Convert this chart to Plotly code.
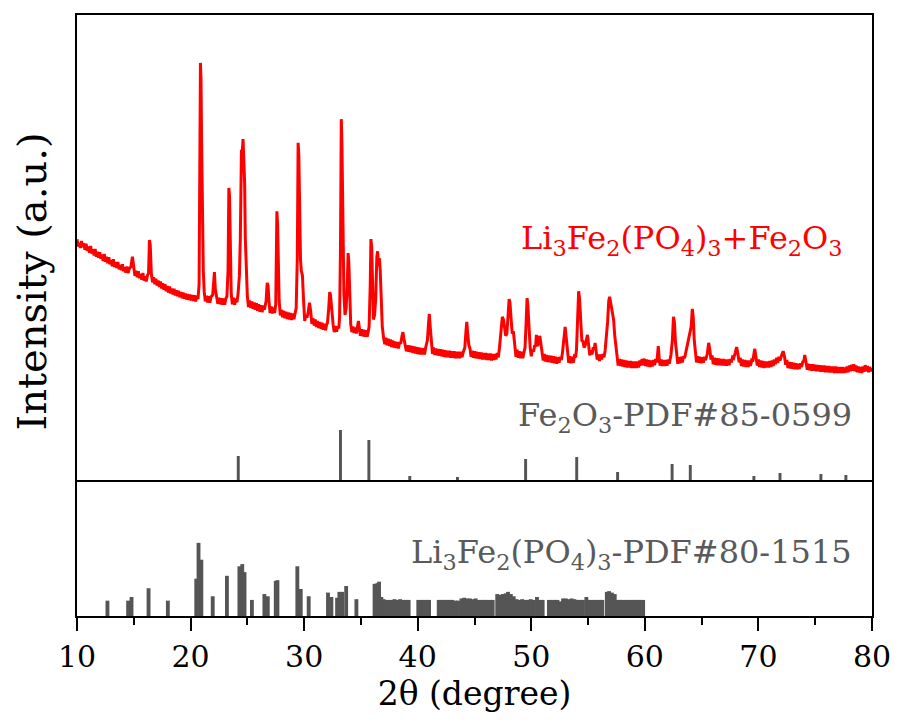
import plotly.graph_objects as go

# ---- measured XRD scan (2theta in degrees, intensity in a.u.) ----
scan_points = [
    (10.0, 51.8), (10.1, 50.2), (10.2, 51.0), (10.3, 49.9), (10.4, 51.4), (10.5, 50.1), (10.6, 50.9),
    (10.7, 49.5), (10.8, 50.8), (10.9, 49.3), (11.0, 50.2), (11.1, 48.9), (11.2, 50.3), (11.3, 48.7),
    (11.4, 49.6), (11.5, 48.3), (11.6, 49.7), (11.7, 48.0), (11.8, 49.1), (11.9, 47.8), (12.0, 49.0),
    (12.1, 47.6), (12.2, 48.5), (12.3, 47.1), (12.4, 48.6), (12.5, 46.9), (12.6, 48.0), (12.7, 46.6),
    (12.8, 47.9), (12.9, 46.4), (13.0, 47.3), (13.1, 46.0), (13.2, 47.5), (13.3, 45.8), (13.4, 46.9),
    (13.5, 45.6), (13.6, 46.9), (13.7, 45.3), (13.8, 46.3), (13.9, 45.1), (14.0, 46.4), (14.1, 44.9),
    (14.2, 45.8), (14.3, 44.6), (14.4, 45.9), (14.5, 44.5), (14.6, 45.4), (14.75, 45.9), (14.88, 48.0),
    (15.0, 45.4), (15.1, 43.9), (15.2, 45.0), (15.3, 43.6), (15.4, 44.9), (15.5, 43.4), (15.6, 44.3),
    (15.7, 43.1), (15.8, 44.5), (15.9, 42.9), (16.0, 43.8), (16.1, 42.7), (16.2, 44.0), (16.3, 44.5),
    (16.38, 51.6), (16.45, 50.5), (16.55, 44.2), (16.65, 42.5), (16.75, 43.6), (16.85, 42.1), (16.95, 43.3),
    (17.05, 41.8), (17.15, 42.9), (17.25, 41.5), (17.35, 42.7), (17.45, 41.2), (17.55, 42.3), (17.65, 40.9),
    (17.75, 42.1), (17.85, 40.6), (17.95, 41.7), (18.05, 40.3), (18.15, 41.6), (18.25, 40.1), (18.35, 41.2),
    (18.45, 39.9), (18.55, 41.1), (18.65, 39.7), (18.75, 40.8), (18.85, 39.5), (18.95, 40.7), (19.05, 39.3),
    (19.15, 40.4), (19.25, 39.1), (19.35, 40.3), (19.45, 39.0), (19.55, 40.1), (19.65, 38.8), (19.75, 40.0),
    (19.85, 38.7), (19.95, 39.9), (20.05, 38.6), (20.15, 39.8), (20.25, 38.5), (20.35, 39.7), (20.45, 38.4),
    (20.55, 39.6), (20.65, 38.9), (20.75, 42.0), (20.82, 60.0), (20.87, 89.7), (20.92, 86.0), (20.97, 73.0),
    (21.02, 62.0), (21.07, 56.0), (21.12, 45.0), (21.2, 40.5), (21.3, 38.4), (21.4, 39.6), (21.5, 38.2),
    (21.6, 39.5), (21.7, 38.1), (21.8, 39.4), (21.95, 39.8), (22.05, 43.0), (22.1, 44.7), (22.18, 41.0),
    (22.3, 39.4), (22.4, 37.9), (22.5, 39.2), (22.6, 37.8), (22.7, 39.1), (22.8, 37.7), (22.9, 39.0),
    (23.0, 37.7), (23.1, 39.0), (23.2, 39.5), (23.3, 45.0), (23.37, 62.8), (23.43, 61.0), (23.5, 48.0),
    (23.58, 40.0), (23.68, 37.8), (23.78, 39.2), (23.88, 37.7), (23.98, 39.0), (24.08, 38.2), (24.18, 40.0),
    (24.3, 44.0), (24.38, 52.0), (24.48, 71.0), (24.55, 70.3), (24.62, 73.3), (24.7, 68.0), (24.76, 63.9),
    (24.82, 52.0), (24.9, 44.0), (25.0, 39.5), (25.1, 37.2), (25.2, 38.6), (25.3, 37.0), (25.4, 38.4),
    (25.5, 36.8), (25.6, 38.2), (25.7, 36.6), (25.8, 38.0), (25.9, 36.4), (26.0, 37.8), (26.1, 36.2),
    (26.2, 37.6), (26.3, 36.1), (26.4, 37.5), (26.5, 36.6), (26.65, 38.5), (26.75, 42.4), (26.82, 41.8),
    (26.9, 38.6), (27.0, 35.9), (27.1, 37.3), (27.2, 35.8), (27.3, 37.1), (27.4, 35.9), (27.5, 37.8),
    (27.55, 45.0), (27.6, 57.8), (27.66, 55.0), (27.72, 44.0), (27.8, 38.5), (27.9, 35.4), (28.0, 36.6),
    (28.1, 35.0), (28.2, 36.4), (28.3, 34.8), (28.4, 36.2), (28.5, 34.6), (28.6, 36.0), (28.7, 34.5),
    (28.8, 35.9), (28.9, 34.4), (29.0, 35.8), (29.1, 34.6), (29.2, 36.2), (29.3, 37.0), (29.4, 48.0),
    (29.47, 72.5), (29.53, 70.0), (29.6, 52.0), (29.68, 47.3), (29.75, 45.0), (29.85, 44.0), (29.95, 38.5),
    (30.05, 34.2), (30.15, 35.5), (30.25, 34.9), (30.35, 36.0), (30.47, 38.1), (30.58, 36.2), (30.68, 33.6),
    (30.78, 34.8), (30.88, 33.2), (30.98, 34.5), (31.08, 32.9), (31.18, 34.2), (31.28, 32.7), (31.38, 34.0),
    (31.48, 32.5), (31.58, 33.8), (31.68, 32.3), (31.78, 33.6), (31.88, 32.2), (31.98, 33.4), (32.05, 33.8),
    (32.15, 36.5), (32.25, 40.4), (32.32, 39.8), (32.42, 36.0), (32.55, 33.5), (32.65, 31.8), (32.75, 33.1),
    (32.85, 31.9), (32.95, 33.0), (33.05, 32.6), (33.12, 35.0), (33.2, 50.0), (33.27, 77.6), (33.33, 72.0),
    (33.38, 58.0), (33.43, 56.0), (33.5, 40.0), (33.6, 35.5), (33.7, 37.0), (33.8, 42.0), (33.87, 48.8),
    (33.93, 47.0), (34.0, 38.0), (34.1, 33.5), (34.2, 31.8), (34.3, 33.0), (34.4, 31.6), (34.5, 32.8),
    (34.6, 31.5), (34.7, 33.0), (34.78, 34.2), (34.87, 32.6), (34.95, 31.0), (35.05, 32.4), (35.15, 30.9),
    (35.25, 32.3), (35.35, 30.8), (35.45, 32.2), (35.55, 30.8), (35.65, 32.0), (35.72, 33.0), (35.82, 42.0),
    (35.88, 51.8), (35.95, 50.0), (36.02, 41.0), (36.1, 34.5), (36.2, 35.5), (36.3, 39.0), (36.4, 48.0),
    (36.47, 49.2), (36.55, 46.0), (36.62, 47.7), (36.7, 45.0), (36.78, 38.0), (36.88, 33.0), (37.0, 30.5),
    (37.1, 29.2), (37.2, 30.6), (37.3, 29.0), (37.4, 30.4), (37.5, 28.8), (37.6, 30.2), (37.7, 28.6),
    (37.8, 30.0), (37.9, 28.5), (38.0, 29.8), (38.1, 28.4), (38.2, 29.7), (38.3, 28.3), (38.4, 29.6),
    (38.5, 29.3), (38.62, 31.0), (38.7, 31.8), (38.78, 30.5), (38.9, 29.0), (39.0, 27.7), (39.1, 29.0),
    (39.2, 27.6), (39.3, 28.9), (39.4, 27.5), (39.5, 28.8), (39.6, 27.3), (39.7, 28.7), (39.8, 27.2),
    (39.9, 28.6), (40.0, 27.1), (40.1, 28.5), (40.2, 27.0), (40.3, 28.4), (40.4, 27.0), (40.5, 28.3),
    (40.6, 27.0), (40.7, 28.5), (40.85, 30.0), (40.95, 33.5), (41.02, 35.7), (41.1, 33.0), (41.2, 29.5),
    (41.3, 27.1), (41.4, 28.5), (41.5, 26.9), (41.6, 28.3), (41.7, 26.8), (41.8, 28.2), (41.9, 26.7),
    (42.0, 28.1), (42.1, 26.6), (42.2, 28.0), (42.3, 26.5), (42.4, 27.9), (42.5, 26.4), (42.6, 27.8),
    (42.7, 26.4), (42.8, 27.8), (42.9, 26.3), (43.0, 27.7), (43.1, 26.3), (43.2, 27.7), (43.3, 26.2),
    (43.4, 27.6), (43.5, 26.2), (43.6, 27.6), (43.7, 26.2), (43.8, 27.6), (43.9, 26.4), (44.0, 27.4),
    (44.15, 28.5), (44.25, 32.0), (44.32, 34.0), (44.4, 31.5), (44.5, 29.0), (44.6, 28.3), (44.7, 26.5),
    (44.8, 27.8), (44.9, 26.3), (45.0, 27.7), (45.1, 26.2), (45.2, 27.6), (45.3, 26.1), (45.4, 27.5),
    (45.5, 26.0), (45.6, 27.4), (45.7, 25.9), (45.8, 27.3), (45.9, 25.9), (46.0, 27.3), (46.1, 25.8),
    (46.2, 27.2), (46.3, 25.8), (46.4, 27.2), (46.5, 25.7), (46.6, 27.1), (46.7, 25.8), (46.8, 27.1),
    (46.9, 25.9), (47.0, 27.3), (47.1, 26.4), (47.2, 28.5), (47.35, 33.0), (47.45, 35.1), (47.55, 34.5),
    (47.65, 33.0), (47.75, 31.0), (47.85, 31.5), (47.95, 35.0), (48.05, 38.9), (48.12, 38.2), (48.22, 34.0),
    (48.32, 31.5), (48.42, 32.0), (48.55, 29.5), (48.65, 26.5), (48.75, 28.0), (48.85, 26.3), (48.95, 27.7),
    (49.05, 26.2), (49.15, 27.6), (49.25, 26.2), (49.35, 27.4), (49.45, 28.5), (49.55, 34.0), (49.63, 39.1),
    (49.7, 37.5), (49.8, 31.0), (49.9, 28.5), (50.0, 26.6), (50.1, 28.0), (50.2, 27.6), (50.3, 29.0),
    (50.38, 28.7), (50.45, 31.2), (50.55, 28.8), (50.65, 29.5), (50.75, 31.0), (50.85, 29.0), (50.95, 27.2),
    (51.05, 25.7), (51.15, 27.1), (51.25, 25.5), (51.35, 26.9), (51.45, 25.4), (51.55, 26.8), (51.65, 25.3),
    (51.75, 26.7), (51.85, 25.2), (51.95, 26.6), (52.05, 25.1), (52.15, 26.5), (52.25, 25.0), (52.35, 26.4),
    (52.45, 25.2), (52.55, 26.5), (52.65, 25.8), (52.75, 27.5), (52.88, 31.0), (52.98, 32.9), (53.08, 30.5),
    (53.2, 27.5), (53.3, 25.2), (53.4, 26.6), (53.5, 25.1), (53.6, 26.5), (53.7, 25.2), (53.8, 26.6),
    (53.9, 26.4), (53.98, 28.0), (54.08, 33.0), (54.17, 40.6), (54.25, 39.0), (54.35, 33.0), (54.45, 30.0),
    (54.55, 29.8), (54.65, 28.5), (54.75, 29.0), (54.85, 30.5), (54.95, 31.2), (55.05, 29.0), (55.15, 26.8),
    (55.25, 27.9), (55.35, 27.0), (55.45, 28.5), (55.55, 28.2), (55.62, 29.5), (55.7, 28.0), (55.8, 25.9),
    (55.9, 27.0), (56.0, 25.6), (56.1, 27.0), (56.2, 25.9), (56.3, 27.1), (56.4, 26.4), (56.5, 27.8),
    (56.6, 30.0), (56.72, 34.0), (56.82, 38.5), (56.9, 39.4), (56.98, 38.3), (57.06, 37.2), (57.15, 35.2),
    (57.25, 34.4), (57.35, 31.0), (57.45, 28.5), (57.55, 26.2), (57.65, 24.6), (57.75, 26.0), (57.85, 24.5),
    (57.95, 25.9), (58.05, 24.4), (58.15, 25.8), (58.25, 24.3), (58.35, 25.7), (58.45, 24.2), (58.55, 25.6),
    (58.65, 24.2), (58.75, 25.6), (58.85, 24.1), (58.95, 25.5), (59.05, 24.1), (59.15, 25.5), (59.25, 24.1),
    (59.35, 25.5), (59.45, 24.2), (59.55, 25.7), (59.65, 24.6), (59.75, 26.0), (59.85, 24.7), (59.95, 26.1),
    (60.05, 24.5), (60.15, 25.9), (60.25, 24.4), (60.35, 25.8), (60.45, 24.3), (60.55, 25.7), (60.65, 24.4),
    (60.75, 25.8), (60.85, 24.7), (60.95, 26.0), (61.05, 25.3), (61.1, 26.5), (61.18, 28.8), (61.27, 26.0),
    (61.35, 24.6), (61.45, 25.9), (61.55, 24.5), (61.65, 25.8), (61.75, 24.5), (61.85, 25.8), (61.95, 24.6),
    (62.05, 25.9), (62.15, 25.0), (62.3, 27.0), (62.42, 30.0), (62.52, 35.1), (62.6, 34.0), (62.7, 29.5),
    (62.8, 27.0), (62.9, 25.0), (63.0, 26.4), (63.1, 25.1), (63.2, 26.5), (63.3, 25.3), (63.4, 26.6),
    (63.5, 26.2), (63.6, 27.4), (63.7, 28.5), (63.85, 30.0), (63.98, 31.5), (64.08, 33.0), (64.18, 36.8),
    (64.26, 35.0), (64.35, 30.0), (64.45, 27.5), (64.55, 25.3), (64.65, 26.6), (64.75, 25.2), (64.85, 26.5),
    (64.95, 25.1), (65.05, 26.4), (65.15, 25.2), (65.25, 26.5), (65.35, 25.8), (65.5, 27.2), (65.62, 29.5),
    (65.72, 28.0), (65.82, 25.9), (65.92, 26.8), (66.02, 24.9), (66.12, 26.3), (66.22, 24.8), (66.32, 26.2),
    (66.42, 24.7), (66.52, 26.1), (66.62, 24.7), (66.72, 26.0), (66.82, 24.6), (66.92, 26.0), (67.02, 24.6),
    (67.12, 25.9), (67.22, 24.6), (67.32, 25.9), (67.42, 24.7), (67.52, 26.0), (67.62, 25.3), (67.72, 26.4),
    (67.82, 26.2), (67.95, 27.3), (68.08, 28.6), (68.2, 27.0), (68.3, 25.3), (68.4, 26.3), (68.5, 24.5),
    (68.6, 25.9), (68.7, 24.4), (68.8, 25.8), (68.9, 24.3), (69.0, 25.7), (69.1, 24.3), (69.2, 25.7),
    (69.3, 24.5), (69.4, 25.7), (69.5, 25.5), (69.58, 26.8), (69.68, 28.2), (69.8, 26.2), (69.9, 24.6),
    (70.0, 25.9), (70.1, 24.3), (70.2, 25.7), (70.3, 24.2), (70.4, 25.6), (70.5, 24.1), (70.6, 25.5),
    (70.7, 24.2), (70.8, 25.5), (70.9, 24.2), (71.0, 25.6), (71.1, 24.3), (71.2, 25.7), (71.3, 24.5),
    (71.4, 25.9), (71.5, 24.9), (71.6, 26.3), (71.7, 25.2), (71.8, 26.5), (71.9, 25.7), (72.05, 26.9),
    (72.18, 27.7), (72.3, 26.5), (72.4, 24.8), (72.5, 25.8), (72.6, 24.1), (72.7, 25.4), (72.8, 24.0),
    (72.9, 25.3), (73.0, 23.9), (73.1, 25.2), (73.2, 23.8), (73.3, 25.1), (73.4, 23.8), (73.5, 25.0),
    (73.6, 23.9), (73.7, 25.1), (73.8, 24.3), (73.9, 25.4), (74.0, 25.6), (74.08, 26.9), (74.2, 25.4),
    (74.3, 23.7), (74.4, 25.0), (74.5, 23.6), (74.6, 24.9), (74.7, 23.5), (74.8, 24.9), (74.9, 23.5),
    (75.0, 24.8), (75.1, 23.4), (75.2, 24.7), (75.3, 23.4), (75.4, 24.7), (75.5, 23.3), (75.6, 24.6),
    (75.7, 23.3), (75.8, 24.6), (75.9, 23.2), (76.0, 24.5), (76.1, 23.2), (76.2, 24.5), (76.3, 23.1),
    (76.4, 24.4), (76.5, 23.1), (76.6, 24.4), (76.7, 23.0), (76.8, 24.4), (76.9, 23.0), (77.0, 24.3),
    (77.1, 23.0), (77.2, 24.3), (77.3, 23.0), (77.4, 24.3), (77.5, 23.0), (77.6, 24.2), (77.7, 23.1),
    (77.8, 24.4), (77.9, 23.2), (78.0, 24.6), (78.1, 23.4), (78.2, 24.8), (78.3, 23.5), (78.4, 24.9),
    (78.5, 23.4), (78.6, 24.6), (78.7, 23.2), (78.8, 24.4), (78.9, 23.1), (79.0, 24.3), (79.1, 23.0),
    (79.2, 24.4), (79.3, 23.3), (79.4, 24.7), (79.5, 23.4), (79.6, 24.5), (79.7, 23.2), (79.8, 24.3),
    (79.9, 23.4), (80.0, 24.1),
]
scan_2theta = [p[0] for p in scan_points]
scan_intensity = [p[1] for p in scan_points]

# ---- Fe2O3 reference card PDF#85-0599 (relative intensity, %) ----
fe2o3_2theta = [24.2, 33.2, 35.7, 39.3, 43.5, 49.5, 54.0, 57.6, 62.4, 64.0, 69.6, 71.9, 75.5, 77.7]
fe2o3_rel_int = [48, 100, 80, 8, 6, 42, 46, 16, 32, 30, 8, 14, 12, 10]

# ---- Li3Fe2(PO4)3 reference card PDF#80-1515 (relative intensity, %) ----
lfp_2theta = [
    12.68, 14.5, 14.8, 16.3, 18.0, 20.5, 20.7, 20.95, 21.95, 23.2, 24.3, 24.55, 24.75, 25.4,
    26.5, 26.8, 27.5, 27.65, 29.4, 29.7, 30.4, 32.1, 32.4, 32.9, 33.1, 33.35, 33.7, 34.6,
    36.2, 36.45, 36.6, 36.8,
    37.0, 37.2, 37.45, 37.7, 37.95, 38.2, 38.45, 38.7, 38.95, 39.2,
    40.05, 40.3, 40.55, 40.8, 41.0,
    41.85, 42.1, 42.35, 42.6, 42.8, 43.05, 43.35, 43.55,
    43.85, 44.1, 44.35, 44.6, 44.85, 45.1, 45.35, 45.6, 45.85, 46.05, 46.35, 46.6,
    47.0, 47.25, 47.5, 47.75, 47.95, 48.2, 48.45,
    48.7, 48.95, 49.2, 49.45, 49.7, 49.95, 50.2, 50.5, 50.75, 51.0,
    51.55, 51.8, 52.05, 52.3, 52.55,
    52.8, 53.05, 53.3, 53.55, 53.8, 54.05, 54.3, 54.55, 54.85, 55.05,
    55.3, 55.55, 55.8, 56.05, 56.25,
    56.65, 56.85, 57.1, 57.35,
    57.6, 57.85, 58.1, 58.35, 58.6, 58.85, 59.1, 59.35, 59.6, 59.85,
]
lfp_rel_int = [
    21, 21, 26, 38, 21, 51, 100, 77, 27, 55, 68, 71, 60, 22,
    30, 27, 48, 49, 68, 37, 27, 32, 26, 25, 33, 33, 41, 23,
    44, 45, 47, 26,
    23, 22, 22, 22, 23, 22, 23, 22, 22, 22,
    22, 22, 22, 22, 22,
    22, 22, 22, 22, 22, 22, 21, 21,
    24, 25, 24, 24, 23, 24, 22, 22, 22, 22, 22, 22,
    30, 29, 30, 31, 33, 30, 27,
    23, 22, 23, 22, 22, 23, 22, 26, 22, 22,
    22, 22, 22, 22, 20,
    24, 24, 23, 24, 23, 22, 22, 22, 26, 22,
    22, 22, 22, 22, 22,
    33, 34, 32, 30,
    22, 22, 22, 22, 22, 22, 22, 22, 22, 22,
]

x_ticks = [10, 20, 30, 40, 50, 60, 70, 80]

FONT = "DejaVu Serif"
GREY = "#555555"
TEXT_GREY = "#5a5a5a"
SPLIT = 0.2263

fig = go.Figure()

# measured pattern (upper panel)
fig.add_trace(go.Scatter(
    x=scan_2theta, y=scan_intensity, mode="lines",
    line=dict(color="#ff0000", width=3),
    xaxis="x2", yaxis="y2", showlegend=False, hoverinfo="skip",
))

# Fe2O3 stick pattern (upper panel, own intensity scale)
fig.add_trace(go.Bar(
    x=fe2o3_2theta, y=fe2o3_rel_int, width=0.26,
    marker=dict(color=GREY, line=dict(width=0)),
    xaxis="x2", yaxis="y3", showlegend=False, hoverinfo="skip",
))

# Li3Fe2(PO4)3 stick pattern (lower panel)
fig.add_trace(go.Bar(
    x=lfp_2theta, y=lfp_rel_int, width=0.34,
    marker=dict(color=GREY, line=dict(width=0)),
    xaxis="x", yaxis="y", showlegend=False, hoverinfo="skip",
))

frame = dict(showline=True, linecolor="black", linewidth=2, showgrid=False, zeroline=False)

fig.update_layout(
    width=903, height=727,
    margin=dict(l=77, r=25, t=15, b=111),
    paper_bgcolor="white", plot_bgcolor="white",
    font=dict(family=FONT, color="black"),
    barmode="overlay",
    xaxis=dict(
        **frame, mirror=False, domain=[0, 1], anchor="y", range=[10, 80],
        tickvals=x_ticks, ticks="outside", ticklen=13, tickwidth=2, tickcolor="black",
        tickfont=dict(family=FONT, size=30, color="black"),
        minor=dict(ticks="outside", ticklen=7, tickwidth=2, tickcolor="black", dtick=5, tick0=15),
        title=dict(text="2θ (degree)", font=dict(family=FONT, size=33, color="black"), standoff=6),
    ),
    yaxis=dict(**frame, mirror=True, domain=[0, SPLIT], anchor="x", range=[0, 186],
               showticklabels=False, ticks=""),
    xaxis2=dict(**frame, mirror=True, domain=[0, 1], anchor="y2", range=[10, 80], matches="x",
                showticklabels=False, ticks=""),
    yaxis2=dict(**frame, mirror=True, domain=[SPLIT, 1], anchor="x2", range=[0, 100],
                showticklabels=False, ticks=""),
    yaxis3=dict(overlaying="y2", anchor="x2", range=[0, 930], visible=False),
)

fig.add_annotation(
    text="Li<sub>3</sub>Fe<sub>2</sub>(PO<sub>4</sub>)<sub>3</sub>+Fe<sub>2</sub>O<sub>3</sub>",
    xref="x2", yref="y2", x=77.6, y=51.6, xanchor="right", yanchor="middle",
    showarrow=False, font=dict(family=FONT, size=32, color="#ff0000"),
)
fig.add_annotation(
    text="Fe<sub>2</sub>O<sub>3</sub>-PDF#85-0599",
    xref="x2", yref="y2", x=78.4, y=13.6, xanchor="right", yanchor="middle",
    showarrow=False, font=dict(family=FONT, size=32, color=TEXT_GREY),
)
fig.add_annotation(
    text="Li<sub>3</sub>Fe<sub>2</sub>(PO<sub>4</sub>)<sub>3</sub>-PDF#80-1515",
    xref="x", yref="y", x=78.4, y=84.5, xanchor="right", yanchor="middle",
    showarrow=False, font=dict(family=FONT, size=32, color=TEXT_GREY),
)
fig.add_annotation(
    text="Intensity (a.u.)", textangle=-90,
    xref="paper", yref="paper", x=-0.057, y=0.556, xanchor="center", yanchor="middle",
    showarrow=False, font=dict(family=FONT, size=40, color="black"),
)

fig.write_html("out.html")
